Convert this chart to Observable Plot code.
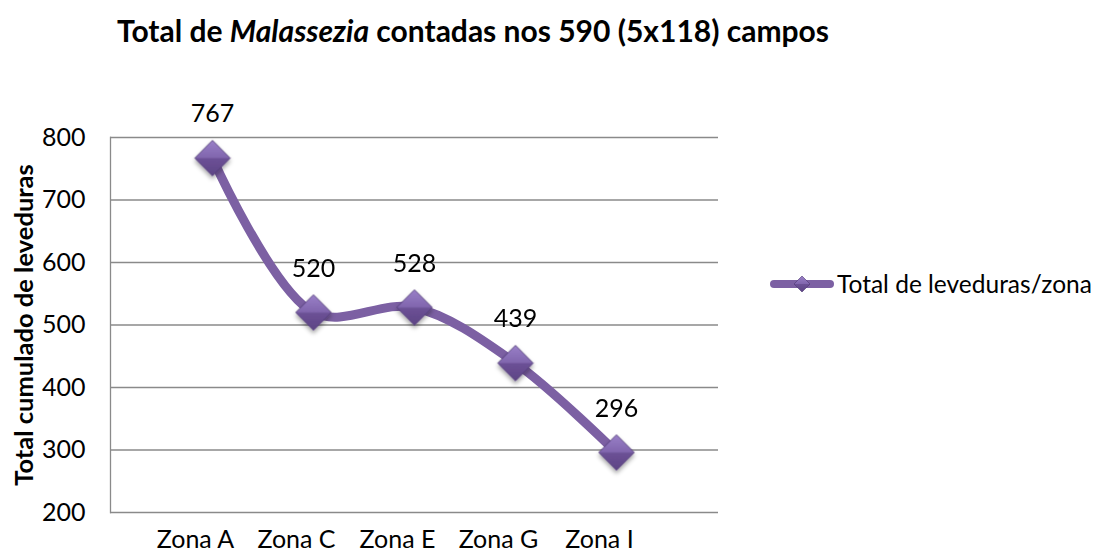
<!DOCTYPE html>
<html>
<head>
<meta charset="utf-8">
<script src="https://cdn.jsdelivr.net/npm/d3@7"></script>
<script src="https://cdn.jsdelivr.net/npm/@observablehq/plot@0.6"></script>
<style>
  html, body { margin: 0; padding: 0; background: #fff; }
  #wrap { position: relative; width: 1094px; height: 553px; font-family: Lato, "Open Sans", sans-serif; }
  #title { height: 60px; line-height: 60px; padding-left: 117px; font-weight: bold; font-size: 30px; color: #000; white-space: nowrap; }
  #legend { position: absolute; left: 770px; top: 269px; display: flex; align-items: center; font-size: 24.5px; color: #000; white-space: nowrap; }
</style>
</head>
<body>
<div id="wrap">
  <div id="title">Total de <i>Malassezia</i> contadas nos 590 (5x118) campos</div>
  <div id="chart"></div>
  <div id="legend"></div>
</div>
<script>
const zones = ["Zona A", "Zona C", "Zona E", "Zona G", "Zona I"];
const totals = [767, 520, 528, 439, 296];
const yTicks = [200, 300, 400, 500, 600, 700, 800];
const seriesName = "Total de leveduras/zona";
const yTitle = "Total cumulado de leveduras";

const data = zones.map((z, i) => ({zone: z, value: totals[i]}));
const purple = "#7C60A3";

const chart = Plot.plot({
  width: 1094,
  height: 493,
  marginTop: 77,
  marginBottom: 41,
  marginLeft: 110,
  marginRight: 376,
  style: {fontFamily: "Lato, 'Open Sans', sans-serif", color: "#000", background: "#fff"},
  x: {type: "point", domain: zones, padding: 1},
  y: {domain: [200, 800]},
  marks: [
    Plot.gridY(yTicks, {stroke: "#8a8a8a", strokeOpacity: 1, strokeWidth: 1.3}),
    Plot.frame({anchor: "left", stroke: "#8a8a8a", strokeWidth: 1.3}),
    Plot.axisY(yTicks, {tickSize: 0, tickPadding: 25, fontSize: 25, label: null}),
    Plot.axisX({tickSize: 0, tickPadding: 18, dx: -17, fontSize: 25, label: null}),
    Plot.text([yTitle], {frameAnchor: "left", textAnchor: "middle", rotate: -90, dx: -86, fontSize: 25.5, fontWeight: "bold", text: d => d}),
    Plot.line(data, {x: "zone", y: "value", curve: "catmull-rom", stroke: purple, strokeWidth: 9}),
    Plot.dot(data, {x: "zone", y: "value", symbol: "diamond2", r: 16, fill: "url(#mgrad)", stroke: "#4d3872", strokeWidth: 0.8}),
    Plot.text(data, {x: "zone", y: "value", text: d => String(d.value), dy: -44, fontSize: 25})
  ]
});

// gradient and shadow definitions for the markers
const defs = `
<defs>
  <linearGradient id="mgrad" x1="0" y1="0" x2="0" y2="1">
    <stop offset="0" stop-color="#9a80c8"/>
    <stop offset="0.48" stop-color="#8166ae"/>
    <stop offset="0.52" stop-color="#6c5196"/>
    <stop offset="1" stop-color="#5d4485"/>
  </linearGradient>
  <filter id="mshadow" x="-50%" y="-50%" width="200%" height="200%">
    <feDropShadow dx="0" dy="3" stdDeviation="2" flood-color="#000" flood-opacity="0.35"/>
  </filter>
</defs>`;
chart.insertAdjacentHTML("afterbegin", defs);
const dotG = chart.querySelector('g[aria-label="dot"]');
if (dotG) dotG.setAttribute("filter", "url(#mshadow)");
document.getElementById("chart").appendChild(chart);

// legend
const lg = document.getElementById("legend");
lg.innerHTML = `<svg width="64" height="20" style="margin-right:3px">
  <line x1="4" y1="10" x2="60" y2="10" stroke="${purple}" stroke-width="8" stroke-linecap="round"/>
  <path d="M32,2 L40,10 L32,18 L24,10 Z" fill="url(#mgrad)" stroke="#4d3872" stroke-width="0.6"/>
</svg><span></span>`;
lg.querySelector("span").textContent = seriesName;
</script>
</body>
</html>
